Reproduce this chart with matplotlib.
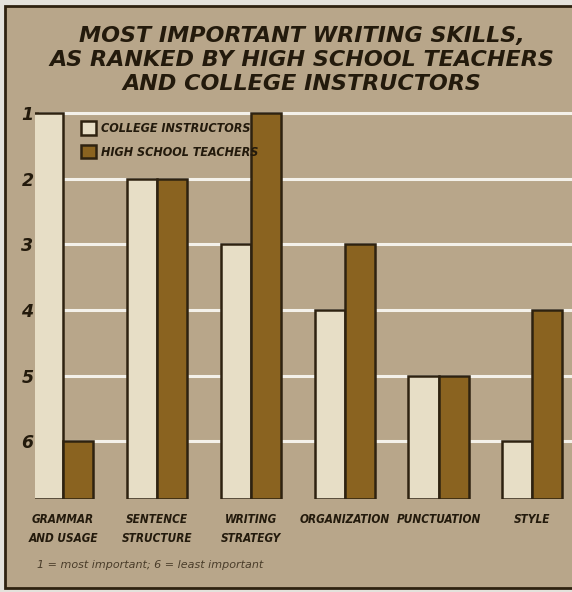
import matplotlib
matplotlib.use("Agg")
import matplotlib.pyplot as plt
from matplotlib.patches import Rectangle
from matplotlib import font_manager as fm
import numpy as np

categories = ["GRAMMAR\nAND USAGE", "SENTENCE\nSTRUCTURE", "WRITING\nSTRATEGY",
              "ORGANIZATION", "PUNCTUATION", "STYLE"]
college = [1, 2, 3, 4, 5, 6]
high_school = [6, 2, 1, 3, 5, 4]
rank_ticks = [1, 2, 3, 4, 5, 6]
title = "MOST IMPORTANT WRITING SKILLS,\nAS RANKED BY HIGH SCHOOL TEACHERS\nAND COLLEGE INSTRUCTORS"
footnote = "1 = most important; 6 = least important"

BG = "#b8a68a"
CREAM = "#e7dec6"
BROWN = "#8a6320"
EDGE = "#2e2210"
TEXT = "#231a0c"

names = {f.name for f in fm.fontManager.ttflist}
narrow = "Liberation Sans Narrow" if "Liberation Sans Narrow" in names else "DejaVu Sans"
cond_prop = dict(family=narrow, weight="bold", style="italic", stretch="condensed")

W, H = 572, 592
fig = plt.figure(figsize=(W / 100, H / 100), dpi=100)
fig.patch.set_facecolor("#e4e2dc")
fig.patches.append(Rectangle((5 / W, 4 / H), 1.2, 1 - 10 / H, transform=fig.transFigure,
                             facecolor=BG, edgecolor=EDGE, linewidth=2, zorder=-5))

bottom_rank = 6.88
ax = fig.add_axes([35 / W, 1 - 499 / H, (568 - 35) / W, (499 - 100) / H])
ax.set_zorder(2)
ax.set_facecolor("none")
ax.set_ylim(bottom_rank, 0.8)
ax.set_xlim(-0.30, 5.38)

x = np.arange(len(categories))
bw = 0.32
for r in rank_ticks:
    ax.plot([-0.25, 5.6], [r, r], color="#f4f1ea", lw=2.2, zorder=1, clip_on=False)

ax.bar(x - bw / 2, [bottom_rank - v for v in college], bottom=college, width=bw,
       color=CREAM, edgecolor=EDGE, linewidth=1.8, zorder=2, label="COLLEGE INSTRUCTORS")
ax.bar(x + bw / 2, [bottom_rank - v for v in high_school], bottom=high_school, width=bw,
       color=BROWN, edgecolor=EDGE, linewidth=1.8, zorder=2, label="HIGH SCHOOL TEACHERS")

for s in ax.spines.values():
    s.set_visible(False)
ax.set_yticks(rank_ticks)
ax.set_yticklabels([str(r) for r in rank_ticks], fontsize=12.5, fontweight="bold",
                   fontstyle="italic", color=TEXT, family="DejaVu Sans")
ax.tick_params(axis="y", length=0, pad=1)
ax.set_xticks(x)
ax.set_xticklabels(categories, fontsize=8.5, color=TEXT, linespacing=1.6, va="top",
                   **cond_prop)
ax.tick_params(axis="x", length=0, pad=10)

leg = ax.legend(loc="upper left", bbox_to_anchor=(0.065, 0.975), frameon=False,
                handlelength=1.2, handleheight=1.3, handletextpad=0.4, labelspacing=0.75,
                prop=fm.FontProperties(size=9, **cond_prop))
for t in leg.get_texts():
    t.set_color(TEXT)

fig.text(302 / W, 1 - 60 / H, title, ha="center", va="center", fontsize=16,
         fontweight="bold", fontstyle="italic", color=TEXT, linespacing=1.22,
         family="DejaVu Sans")
fig.text(37 / W, 1 - 565 / H, footnote, ha="left", va="center", fontsize=8,
         fontstyle="italic", color="#4a3d2a", family="DejaVu Sans")

fig.savefig("out.png", dpi=100, facecolor=fig.get_facecolor())
